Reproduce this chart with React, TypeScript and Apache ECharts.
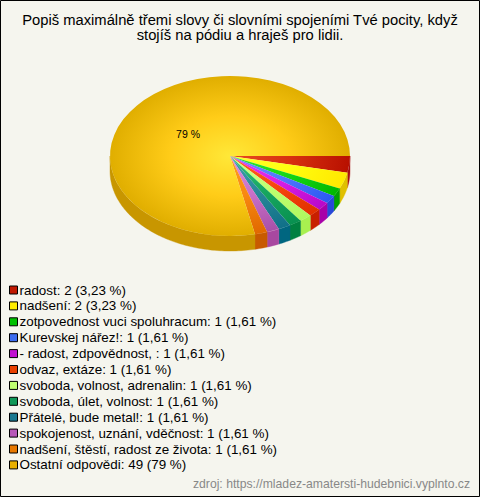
import React, { useEffect, useRef } from "react";
import * as echarts from "echarts";

const categories = [
  "radost",
  "nadšení",
  "zotpovednost vuci spoluhracum",
  "Kurevskej nářez!",
  "- radost, zdpovědnost, ",
  "odvaz, extáze",
  "svoboda, volnost, adrenalin",
  "svoboda, úlet, volnost",
  "Přátelé, bude metal!",
  "spokojenost, uznání, vděčnost",
  "nadšení, štěstí, radost ze života",
  "Ostatní odpovědi",
];
const counts = [2, 2, 1, 1, 1, 1, 1, 1, 1, 1, 1, 49];
const percents = ["3,23", "3,23", "1,61", "1,61", "1,61", "1,61", "1,61", "1,61", "1,61", "1,61", "1,61", "79"];
const swatches = ["#c01800", "#ffee00", "#00c000", "#3c6cf0", "#c010d0", "#e84000", "#c0ff70", "#109858", "#187890", "#b858b8", "#e87800", "#e8b000"];
const innerColors = ["#e84a20", "#ffff30", "#30e830", "#6a90ff", "#e838f0", "#ff6020", "#d0ff90", "#30c080", "#40a0b0", "#e090e0", "#ffa020", "#ffe838"];
const midColors = ["#d83010", "#ffff10", "#18d818", "#5078ff", "#d820e8", "#f84810", "#c0ff70", "#18a860", "#288898", "#c870c8", "#f88810", "#ffcc18"];
const outerColors = ["#b81000", "#ffe800", "#00b800", "#2c58f0", "#b808c8", "#e03000", "#b0f860", "#089050", "#107088", "#a850a8", "#e06800", "#e0ae00"];
const wallColors = ["#a80c10", "#e0c000", "#00a000", "#2848d8", "#a800a8", "#c82000", "#a8f050", "#008040", "#006680", "#a848a0", "#c85a00", "#c89600"];

const CX = 230;
const CY = 156;
const RX = 120;
const RY = 80;
const DEPTH = 15;
const ANGLE_STRETCH = 1.033;

const total = counts.reduce((a, b) => a + b, 0);
const names = categories.map((c, i) => `${c}: ${counts[i]} (${percents[i]} %)`);

function sliceAngles(i: number): [number, number] {
  const before = counts.slice(0, i).reduce((a, b) => a + b, 0);
  const a0 = (before / total) * Math.PI * 2 * ANGLE_STRETCH;
  const a1 = i === counts.length - 1 ? Math.PI * 2 : ((before + counts[i]) / total) * Math.PI * 2 * ANGLE_STRETCH;
  return [a0, a1];
}

function renderSlice(i: number) {
  return () => {
    const [a0, a1] = sliceAngles(i);
    const children: any[] = [];
    const w0 = Math.min(a0, Math.PI);
    const w1 = Math.min(a1, Math.PI);
    if (w1 > w0) {
      const top: number[][] = [];
      const bottom: number[][] = [];
      const steps = Math.max(4, Math.ceil((w1 - w0) / 0.02));
      for (let s = 0; s <= steps; s++) {
        const t = w0 + ((w1 - w0) * s) / steps;
        const x = CX + RX * Math.cos(t);
        const y = CY + RY * Math.sin(t);
        top.push([x, y]);
        bottom.unshift([x, y + DEPTH]);
      }
      children.push({
        type: "polygon",
        shape: { points: top.concat(bottom) },
        style: { fill: wallColors[i], stroke: wallColors[i], lineWidth: 0.4 },
      });
    }
    children.push({
      type: "group",
      x: CX,
      y: CY,
      scaleY: RY / RX,
      children: [
        {
          type: "sector",
          shape: { cx: 0, cy: 0, r0: 0, r: RX, startAngle: a0, endAngle: a1, clockwise: true },
          style: {
            fill: new echarts.graphic.RadialGradient(
              0,
              0,
              RX,
              [
                { offset: 0, color: innerColors[i] },
                { offset: 0.5, color: midColors[i] },
                { offset: 1, color: outerColors[i] },
              ],
              true
            ),
          },
        },
      ],
    });
    if (i === counts.length - 1) {
      const mid = (a0 + a1) / 2;
      children.push({
        type: "text",
        x: CX + 0.45 * RX * Math.cos(mid),
        y: CY + 0.45 * RY * Math.sin(mid) + 1,
        style: {
          text: `${percents[i]} %`,
          fill: "#000",
          font: '10.5px "Liberation Sans", Arial, sans-serif',
          align: "center",
          verticalAlign: "middle",
        },
      });
    }
    return { type: "group", children };
  };
}

export default function App() {
  const ref = useRef<HTMLDivElement>(null);
  useEffect(() => {
    document.body.style.margin = "0";
    const chart = echarts.init(ref.current!, null, { renderer: "svg" });
    chart.setOption({
      animation: false,
      backgroundColor: "#f5f5ee",
      title: {
        text: "Popiš maximálně třemi slovy či slovními spojeními Tvé pocity, když\nstojíš na pódiu a hraješ pro lidii.",
        left: 235,
        top: 7,
        textAlign: "center",
        textStyle: {
          fontFamily: '"Liberation Sans", Arial, sans-serif',
          fontSize: 14.75,
          fontWeight: "normal",
          color: "#000",
          lineHeight: 15.5,
        },
      },
      legend: {
        orient: "vertical",
        left: 9,
        top: 283,
        itemWidth: 8,
        itemHeight: 8,
        itemGap: 1.9,
        selectedMode: false,
        padding: 0,
        textStyle: {
          fontFamily: '"Liberation Sans", Arial, sans-serif',
          fontSize: 13.4,
          color: "#000",
          padding: [0, 0, 0, -3],
          lineHeight: 14,
        },
        data: names.map((name, i) => ({
          name,
          icon: "rect",
          itemStyle: { color: swatches[i], borderColor: "#000", borderWidth: 1 },
        })),
      },
      graphic: [
        {
          type: "rect",
          shape: { x: 0.5, y: 0.5, width: 479, height: 496 },
          style: { fill: "none", stroke: "#000", lineWidth: 1 },
          silent: true,
        },
        {
          type: "text",
          x: 470,
          y: 484,
          style: {
            text: "zdroj: https://mladez-amatersti-hudebnici.vyplnto.cz",
            fill: "#888",
            font: '12.2px "Liberation Sans", Arial, sans-serif',
            align: "right",
            verticalAlign: "middle",
          },
        },
      ],
      series: counts.map((v, i) => ({
        type: "custom",
        name: names[i],
        coordinateSystem: "none",
        silent: true,
        clip: false,
        data: [[v]],
        renderItem: renderSlice(i),
      })),
    });
    return () => chart.dispose();
  }, []);
  return <div ref={ref} style={{ position: "fixed", left: 0, top: 0, width: 480, height: 497 }} />;
}
